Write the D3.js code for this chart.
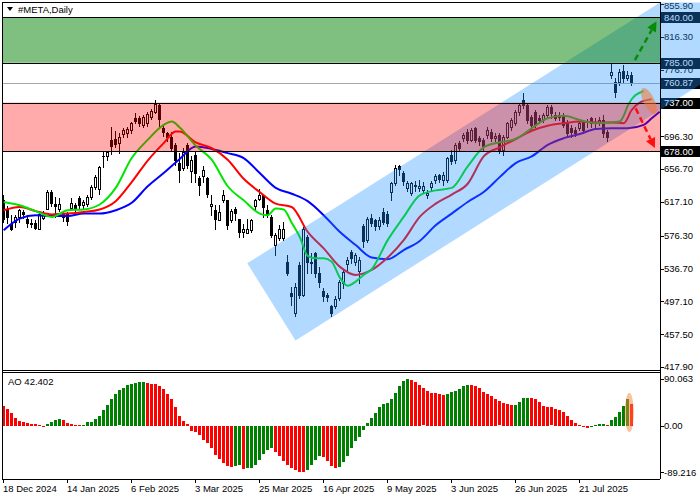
<!DOCTYPE html>
<html><head><meta charset="utf-8">
<script src="https://cdn.jsdelivr.net/npm/d3@7"></script>
<style>
body{margin:0;background:#fff}
svg{display:block}
text{font-family:"Liberation Sans",Arial,sans-serif;font-size:9.5px;fill:#000}
</style>
</head><body>
<svg id="chart" width="700" height="500"></svg>
<script>
// ---------- DATA ----------
const openP = [619,609,591,593,599,605,596,592,592,585,598,609,629,614,609,603,604,610,613,622,
613,614,623,635,633,673,672,692,693,688,699,700,704,718,718,710,712,720,726,734,
706,700,696,686,664,658,686,654,674,646,648,646,612,607,595,619,619,595,608,597,
581,579,583,612,621,625,607,599,565,573,573,545,507,483,541,505,575,545,556,531,
509,505,491,491,501,519,542,557,544,534,588,571,598,595,588,605,603,629,640,661,
652,634,628,637,634,632,626,635,643,649,643,644,674,668,688,694,702,692,706,694,
692,698,702,694,698,680,696,708,712,726,740,734,720,726,718,716,722,732,722,722,
722,714,706,704,706,714,714,718,714,714,716,702,770,762,762,775,767,770];
const highP = [625,612,601,601,609,607,601,596,595,604,606,631,631,623,622,606,605,622,616,624,
619,625,637,649,660,678,679,707,703,700,706,707,714,724,721,722,725,729,740,736,
710,702,701,688,676,682,688,672,678,648,660,647,625,613,613,631,619,609,611,597,
591,597,597,621,633,625,613,601,579,589,593,553,515,519,545,587,577,555,557,539,
513,507,493,503,523,535,551,559,556,551,591,599,603,597,599,610,606,641,662,662,
654,642,641,642,643,641,631,642,651,651,653,671,680,688,690,700,705,706,707,697,
694,707,705,700,700,698,714,718,728,736,748,736,722,728,722,724,734,734,726,726,
724,716,710,708,716,716,717,720,718,720,722,704,785,767,777,782,775,774];
const lowP = [593,592,583,587,593,598,587,587,584,584,596,608,612,599,606,594,589,607,606,610,
608,612,621,633,627,659,668,675,683,676,695,696,700,712,709,707,709,717,724,706,
697,690,680,662,641,655,658,641,641,625,641,623,601,585,595,617,585,593,595,575,
575,579,581,608,619,599,599,575,553,571,571,529,493,479,501,503,531,531,526,515,
497,497,479,489,499,513,535,543,541,519,563,569,588,583,585,590,588,620,638,650,
638,630,626,630,630,629,622,632,640,641,637,641,663,664,678,690,688,690,689,686,
678,694,690,690,676,674,694,704,710,722,730,712,704,708,712,713,718,718,716,716,
708,697,696,697,704,700,708,708,708,710,696,690,767,744,758,762,764,758];
const closeP = [596,599,585,599,607,602,592,590,586,602,604,629,616,612,615,599,594,616,610,613,
617,623,635,647,659,672,677,685,687,696,704,705,712,715,712,720,723,727,735,717,
702,695,682,668,656,677,662,668,652,638,656,627,614,597,605,625,589,606,604,581,
585,585,595,619,625,611,603,577,577,585,584,531,504,515,505,585,545,543,531,521,
503,502,483,500,520,533,547,549,553,547,570,597,592,588,595,593,592,640,658,657,
642,640,640,636,636,636,628,640,648,645,650,670,666,686,682,698,692,704,692,691,
684,704,694,697,680,696,712,716,726,734,734,716,710,710,716,722,732,724,718,720,
710,700,702,700,712,704,715,712,712,716,700,696,774,750,774,767,770,760.87];

const aoValues = [38,32,25,15,9,7,5,4,3,2,-1,4,8,11,13,11,5,3,2,1,
2,7,8,13,19,30,41,51,61,68,73,78,80,82,84,84.5,82,81,80,77,
71,61,51,37,19,10,3,-10,-12,-17,-26,-33,-42,-55,-64,-71,-77,-78,-76,-75,
-82,-81,-80,-75,-65,-53,-46,-42,-50,-57,-67,-74,-80,-85,-87.5,-89.2,-84,-74,-65,-57,
-60,-67,-76,-80,-78,-69,-58,-42,-29,-21,-8,6,15,25,36,42,44,51,64,77,
86,90,88,84,79,72,67,63.5,63,61,59,61,65,67,71,77,79,78.8,77,73,
65,61,57,51,47,44,42,40,40.5,46,53,53.5,53,51,46,38,36,35.5,32,30,
26,19,11,5,1,-2,-4,-2,1,3,3.2,1,11,17,26,38,51,42.402];

// Alligator lines: [bar index, price]
const lipsPts = [[0,617],[4,613],[8,606],[12,599],[16,607],[20,608],[24,614],[28,634],[32,670],[36,692],
[40,710],[42,714],[44,707],[48,685],[52,668],[56,636],[60,619],[64,603],[66,601],[68,609],[70,608],[72,592],
[74,575],[76,552],[78,549],[80,549],[82,545],[84,526],[86,516],[88,521],[90,529],[92,536],[96,571],[100,599],
[104,625],[108,631],[112,634],[116,660],[120,683],[124,689],[128,693],[132,706],[136,718],[140,721],
[144,716],[148,712],[152,713],[154,714],[155,721],[156,733],[157,741],[158,746],[160,751]];
const teethPts = [[0,607],[4,611],[8,606],[12,602],[16,603],[20,605],[24,608],[28,618],[32,641],[36,667],
[40,688],[43,702],[44,702],[48,689],[52,682],[56,668],[60,645],[64,629],[68,615],[72,611],[76,581],
[80,561],[84,539],[88,529],[92,535],[96,550],[100,571],[104,599],[108,615],[112,626],[116,639],
[120,672],[124,683],[128,693],[132,703],[136,709],[140,712],[144,714],[148,713],[152,713],[155,712],
[157,728],[159,737],[162,741]];
const jawPts = [[0,583],[4,597],[8,601],[12,600],[16,600],[20,603],[24,603],[28,607],[32,616],[36,636],
[40,652],[44,669],[48,684],[52,681],[56,676],[60,670],[64,652],[68,634],[72,627],[76,618],[80,601],
[84,581],[88,565],[92,550],[96,548],[100,559],[104,570],[108,589],[112,603],[116,617],[120,629],
[124,647],[128,664],[132,672],[136,686],[140,694],[144,699],[148,705],[152,706],[156,706],[160,710],
[162,718],[164,726]];

const priceTicks = [855.9,816.3,776.7,696.3,656.7,617.1,576.3,536.7,497.1,457.5,417.9];
const priceTickLabels = ["855.90","816.30","776.70","696.30","656.70","617.10","576.30","536.70","497.10","457.50","417.90"];
const levelValues = [840,785,737,678];
const markerValues = [840,785,760.87,737,678];
const markerLabels = ["840.00","785.00","760.87","737.00","678.00"];
const lastPrice = 760.87;
const greenZone = [840,785];
const redZone = [737,678];
// trend channel corners [bar index, price]
const channelPts = [[60.9,543],[72.95,450],[180,776.5],[180,906.3]];
// forecast arrows [i0,p0,i1,p1]
const upArrow = [157.8,788.3,163.2,835];
const downArrow = [158,730,162.8,682];
const priceEllipse = [161.3,739]; // centre
const aoEllipse = [156.4,-12,63];  // centre index, value range covered

const dateIdx = [0,16,32,48,64,80,96,112,128,144];
const dateLabels = ["18 Dec 2024","14 Jan 2025","6 Feb 2025","3 Mar 2025","25 Mar 2025","16 Apr 2025","9 May 2025","3 Jun 2025","26 Jun 2025","21 Jul 2025"];
const aoTicks = [90.063,0,-89.216];
const aoTickLabels = ["90.063","0.00","-89.216"];
const symbolTitle = "#META,Daily";
const aoTitle = "AO 42.402";

// ---------- LAYOUT ----------
const L = 2, R = 660, T = 2, MB = 370, AT = 372, AB = 479;
const svg = d3.select("#chart");
const x = d3.scaleLinear().domain([0,157]).range([3.7,631.7]);
const y = d3.scaleLinear().domain([417.9,855.9]).range([367,4]);
const yAO = d3.scaleLinear().domain([-89.216,90.063]).range([472.3,379]);

const defs = svg.append("defs");
defs.append("clipPath").attr("id","plot").append("rect").attr("x",L+0.5).attr("y",T+0.5).attr("width",R-L-0.5).attr("height",MB-T-0.5);
defs.append("clipPath").attr("id","plotAxis").append("rect").attr("x",L+0.5).attr("y",T+0.5).attr("width",700-L).attr("height",MB-T-0.5);

const n = closeP.length;
const idx = d3.range(n);
const px = i => Math.floor(x(i));

// candles
const cg = svg.append("g").attr("clip-path","url(#plot)");
cg.selectAll("line.w").data(idx).join("line")
  .attr("x1",i=>px(i)+0.5).attr("x2",i=>px(i)+0.5)
  .attr("y1",i=>Math.round(y(highP[i]))).attr("y2",i=>Math.round(y(lowP[i]))+1)
  .attr("stroke","#000").attr("stroke-width",1);
cg.selectAll("rect.b").data(idx).join("rect")
  .attr("shape-rendering","crispEdges")
  .each(function(i){
    const o=openP[i], c=closeP[i];
    const top=Math.round(y(Math.max(o,c))), bot=Math.round(y(Math.min(o,c)));
    const s=d3.select(this);
    if(c>=o){
      s.attr("x",px(i)-1+0.5).attr("y",top+0.5).attr("width",2).attr("height",Math.max(1,bot-top))
       .attr("fill","#fff").attr("stroke","#000").attr("stroke-width",1);
    } else {
      s.attr("x",px(i)-1).attr("y",top).attr("width",3).attr("height",Math.max(1,bot-top+1))
       .attr("fill","#000");
    }
  });

// alligator
const line = d3.line().x(d=>x(d[0])).y(d=>y(d[1])).curve(d3.curveMonotoneX);
const mg = svg.append("g").attr("clip-path","url(#plot)").attr("fill","none").attr("stroke-width",2);
mg.append("path").datum(jawPts).attr("d",line).attr("stroke","#0000ff");
mg.append("path").datum(teethPts).attr("d",line).attr("stroke","#ff0000");
mg.append("path").datum(lipsPts).attr("d",line).attr("stroke","#00e600");

// current price line
svg.append("line").attr("x1",L).attr("x2",R).attr("y1",Math.round(y(lastPrice))+0.5).attr("y2",Math.round(y(lastPrice))+0.5)
  .attr("stroke","#a8a8a8").attr("stroke-width",1);

// price axis
const ag = svg.append("g");
ag.selectAll("line.t").data(priceTicks).join("line")
  .attr("x1",R).attr("x2",R+4).attr("y1",d=>Math.round(y(d))+0.5).attr("y2",d=>Math.round(y(d))+0.5)
  .attr("stroke","#000");
ag.selectAll("text.t").data(priceTicks).join("text")
  .attr("x",R+4).attr("y",d=>Math.max(y(d),6)).attr("dy","0.35em").text((d,k)=>priceTickLabels[k]);
const mk = ag.selectAll("g.m").data(markerValues).join("g");
mk.append("rect").attr("x",R+1).attr("y",d=>Math.round(y(d))-5).attr("width",700-R-1).attr("height",11).attr("fill","#000");
mk.append("text").attr("x",R+4).attr("y",d=>y(d)).attr("dy","0.35em").style("fill","#fff").text((d,k)=>markerLabels[k]);

// trend channel (semi-transparent, over candles & axis)
svg.append("g").attr("clip-path","url(#plotAxis)").append("polygon")
  .attr("points",channelPts.map(d=>[x(d[0]),y(d[1])].join(",")).join(" "))
  .attr("fill","rgb(30,144,255)").attr("fill-opacity",0.34);

// zones
const zg = svg.append("g").attr("clip-path","url(#plot)");
zg.append("rect").attr("x",L).attr("width",R-L).attr("y",y(greenZone[0])).attr("height",y(greenZone[1])-y(greenZone[0]))
  .attr("fill","rgb(0,128,0)").attr("fill-opacity",0.5);
zg.append("rect").attr("x",L).attr("width",R-L).attr("y",y(redZone[0])).attr("height",y(redZone[1])-y(redZone[0]))
  .attr("fill","rgb(255,0,0)").attr("fill-opacity",0.33);
zg.selectAll("line.lv").data(levelValues).join("line")
  .attr("x1",L).attr("x2",R).attr("y1",d=>Math.round(y(d))+0.5).attr("y2",d=>Math.round(y(d))+0.5)
  .attr("stroke","#000").attr("stroke-width",1);

// ellipse marker on price
svg.append("ellipse").attr("cx",x(priceEllipse[0])).attr("cy",y(priceEllipse[1])).attr("rx",14).attr("ry",5.5)
  .attr("transform",`rotate(64 ${x(priceEllipse[0])} ${y(priceEllipse[1])})`)
  .attr("fill","rgb(240,120,50)").attr("fill-opacity",0.55);

// arrows
function arrow(a,color){
  const x0=x(a[0]),y0=y(a[1]),x1=x(a[2]),y1=y(a[3]);
  const ang=Math.atan2(y1-y0,x1-x0), hl=10, hw=5;
  const bx=x1-hl*Math.cos(ang), by=y1-hl*Math.sin(ang);
  svg.append("line").attr("x1",x0).attr("y1",y0).attr("x2",bx).attr("y2",by)
    .attr("stroke",color).attr("stroke-width",2.5).attr("stroke-dasharray","6,4");
  const p1=[bx+hw*Math.sin(ang), by-hw*Math.cos(ang)], p2=[bx-hw*Math.sin(ang), by+hw*Math.cos(ang)];
  svg.append("polygon").attr("points",[[x1,y1],p1,p2].map(p=>p.join(",")).join(" ")).attr("fill",color);
}
arrow(upArrow,"#0a8a0a");
arrow(downArrow,"#ff1010");

// AO histogram
const aog = svg.append("g").attr("shape-rendering","crispEdges");
aog.selectAll("rect").data(idx).join("rect")
  .attr("x",i=>px(i)-1).attr("width",3)
  .attr("y",i=>Math.round(Math.min(yAO(0),yAO(aoValues[i]))))
  .attr("height",i=>Math.max(1,Math.round(Math.abs(yAO(aoValues[i])-yAO(0)))))
  .attr("fill",i=>(i===0||aoValues[i]<aoValues[i-1])?"#ff0000":"#008000");
{
  const cy=(yAO(aoEllipse[1])+yAO(aoEllipse[2]))/2, ry=Math.abs(yAO(aoEllipse[1])-yAO(aoEllipse[2]))/2;
  svg.append("ellipse").attr("cx",x(aoEllipse[0])).attr("cy",cy)
    .attr("rx",4.5).attr("ry",ry).attr("fill","rgb(250,130,60)").attr("fill-opacity",0.5);
}
svg.selectAll("line.at").data(aoTicks).join("line")
  .attr("x1",R).attr("x2",R+4).attr("y1",d=>Math.round(yAO(d))+0.5).attr("y2",d=>Math.round(yAO(d))+0.5).attr("stroke","#000");
svg.selectAll("text.at").data(aoTicks).join("text")
  .attr("x",R+4).attr("y",d=>yAO(d)).attr("dy","0.35em").text((d,k)=>aoTickLabels[k]);
svg.append("text").attr("x",8).attr("y",382).attr("dy","0.35em").text(aoTitle);

// frames
const fr = svg.append("g").attr("stroke","#000").attr("stroke-width",1).attr("shape-rendering","crispEdges");
fr.append("line").attr("x1",L).attr("x2",R).attr("y1",T).attr("y2",T);
fr.append("line").attr("x1",L).attr("x2",L).attr("y1",T).attr("y2",AB);
fr.append("line").attr("x1",R).attr("x2",R).attr("y1",T).attr("y2",AB);
fr.append("line").attr("x1",L).attr("x2",R).attr("y1",MB).attr("y2",MB);
fr.append("line").attr("x1",L).attr("x2",R).attr("y1",AT).attr("y2",AT);
fr.append("line").attr("x1",L).attr("x2",R).attr("y1",AB).attr("y2",AB);

// date axis
svg.selectAll("line.d").data(dateIdx).join("line")
  .attr("x1",i=>px(i)+0.5).attr("x2",i=>px(i)+0.5).attr("y1",AB).attr("y2",AB+4).attr("stroke","#000");
svg.selectAll("text.d").data(dateIdx).join("text")
  .attr("x",i=>px(i)).attr("y",489).attr("dy","0.35em").text((d,k)=>dateLabels[k]);

// title
svg.append("path").attr("d","M7,7 L13,7 L10,11 Z").attr("fill","#000");
svg.append("text").attr("x",18).attr("y",9.5).attr("dy","0.35em").text(symbolTitle);
</script>
</body></html>
